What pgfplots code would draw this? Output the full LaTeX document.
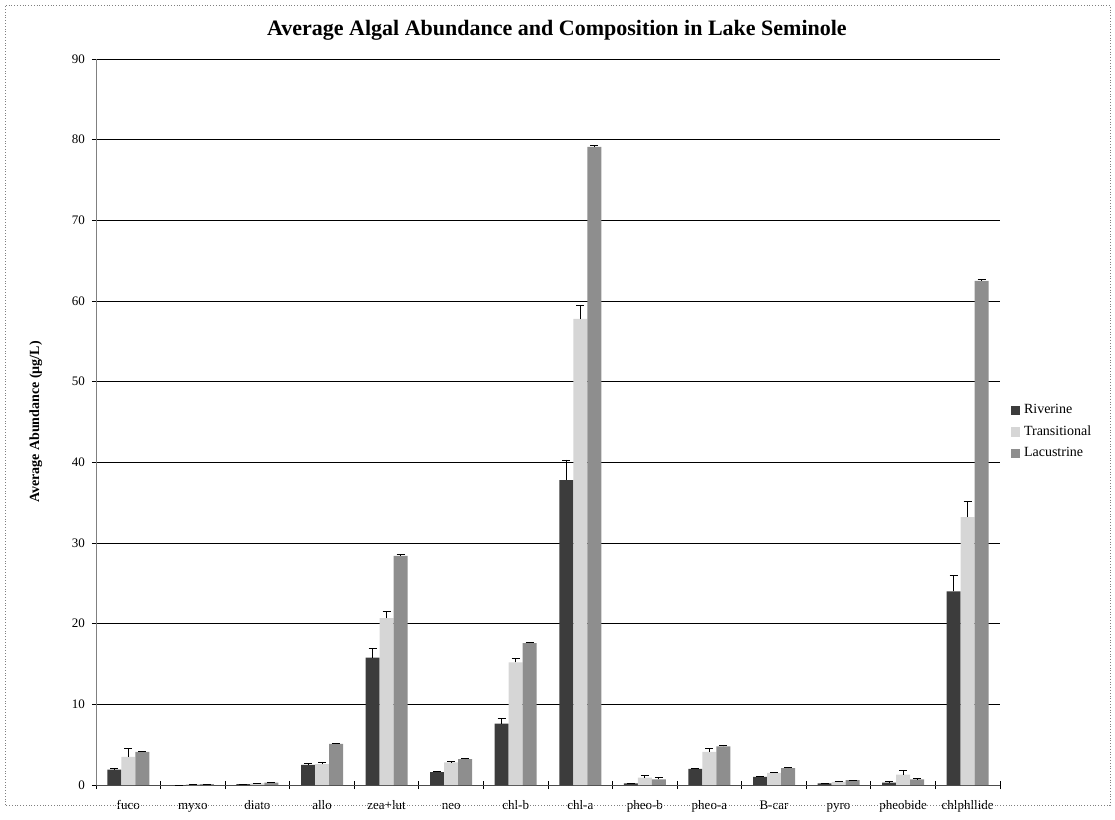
\documentclass[border=0pt]{standalone}
\usepackage{pgfplots}
\usepackage{pgfplotstable}
\pgfplotsset{compat=1.18}
\usetikzlibrary{calc}
\usepackage{fontspec}
\setmainfont{Liberation Serif}
\definecolor{riv}{HTML}{3C3C3C}
\definecolor{tra}{HTML}{D6D6D6}
\definecolor{lac}{HTML}{8E8E8E}
\pgfplotstableread{
x R Re T Te L Le
0 1.9 0.2 3.5 1.0 4.1 0.1
1 0.0 0.0 0.1 0.0 0.1 0.0
2 0.1 0.0 0.2 0.0 0.3 0.0
3 2.5 0.2 2.6 0.2 5.1 0.1
4 15.8 1.1 20.7 0.8 28.4 0.2
5 1.6 0.1 2.8 0.1 3.2 0.1
6 7.6 0.6 15.2 0.5 17.6 0.1
7 37.8 2.5 57.8 1.7 79.1 0.2
8 0.2 0.0 0.9 0.3 0.7 0.3
9 2.0 0.1 4.1 0.4 4.8 0.1
10 1.0 0.1 1.5 0.1 2.1 0.1
11 0.2 0.0 0.4 0.1 0.6 0.0
12 0.3 0.1 1.3 0.5 0.7 0.1
13 24.0 2.0 33.2 1.9 62.5 0.2
}\data
\begin{document}
\begin{tikzpicture}
\begin{axis}[name=ax,
  scale only axis, width=452pt, height=363pt,
  ybar=0pt, bar width=7pt,
  xmin=-0.5, xmax=13.5, ymin=0, ymax=90,
  xtick={-0.5,0.5,...,13.5},
  x tick label as interval,
  xticklabels={fuco,myxo,diato,allo,zea+lut,neo,chl-b,chl-a,pheo-b,pheo-a,B-car,pyro,pheobide,chlphllide},
  x tick label style={text height=1.5ex, text depth=0.3ex},
  x tick style={black, thin},
  xmajorgrids=false,
  ytick={0,10,...,90},
  ymajorgrids, grid style={black, line width=0.5pt},
  y tick style={black}, major tick length=4pt, tick align=center,
  axis x line*=bottom, axis y line*=left,
  axis line style={gray, line width=0.5pt},
  x axis line style={black!70},
  tick label style={font=\fontsize{6.5}{7}\selectfont},
  /pgf/number format/assume math mode=true,
  ylabel={\textbf{Average Abundance (µg/L)}},
  ylabel style={font=\fontsize{7}{8}\selectfont, yshift=8pt},
  legend style={at={(1.005,0.5)}, anchor=west, yshift=-5pt, draw=none, fill=none,
    font=\fontsize{7}{8}\selectfont, row sep=0.5pt,
    legend cell align=left},
  legend image code/.code={\draw[#1,draw=none] (0cm,-0.08cm) rectangle (0.16cm,0.08cm);},
  error bars/y dir=plus, error bars/y explicit,
  error bars/error bar style={black, line width=0.5pt},
  error bars/error mark options={rotate=90, mark size=2pt, black},
]
\addplot[fill=riv, draw=none] table[x=x, y=R, y error=Re]{\data};
\addplot[fill=tra, draw=none] table[x=x, y=T, y error=Te]{\data};
\addplot[fill=lac, draw=none] table[x=x, y=L, y error=Le]{\data};
\legend{Riverine,Transitional,Lacustrine}
\end{axis}
\node[font=\bfseries\fontsize{11}{13}\selectfont] at ($(ax.north west)!0.5!(ax.north east)+(4.5pt,14.5pt)$) {Average Algal Abundance and Composition in Lake Seminole};
\path[use as bounding box] ($(ax.south west)+(-48pt,-16.5pt)$) rectangle ($(ax.south west)+(509.5pt,392.5pt)$);
\draw[gray, densely dotted, line width=0.4pt] ($(ax.south west)+(-45.5pt,-10pt)$) rectangle ($(ax.south west)+(507pt,390pt)$);
\end{tikzpicture}
\end{document}
